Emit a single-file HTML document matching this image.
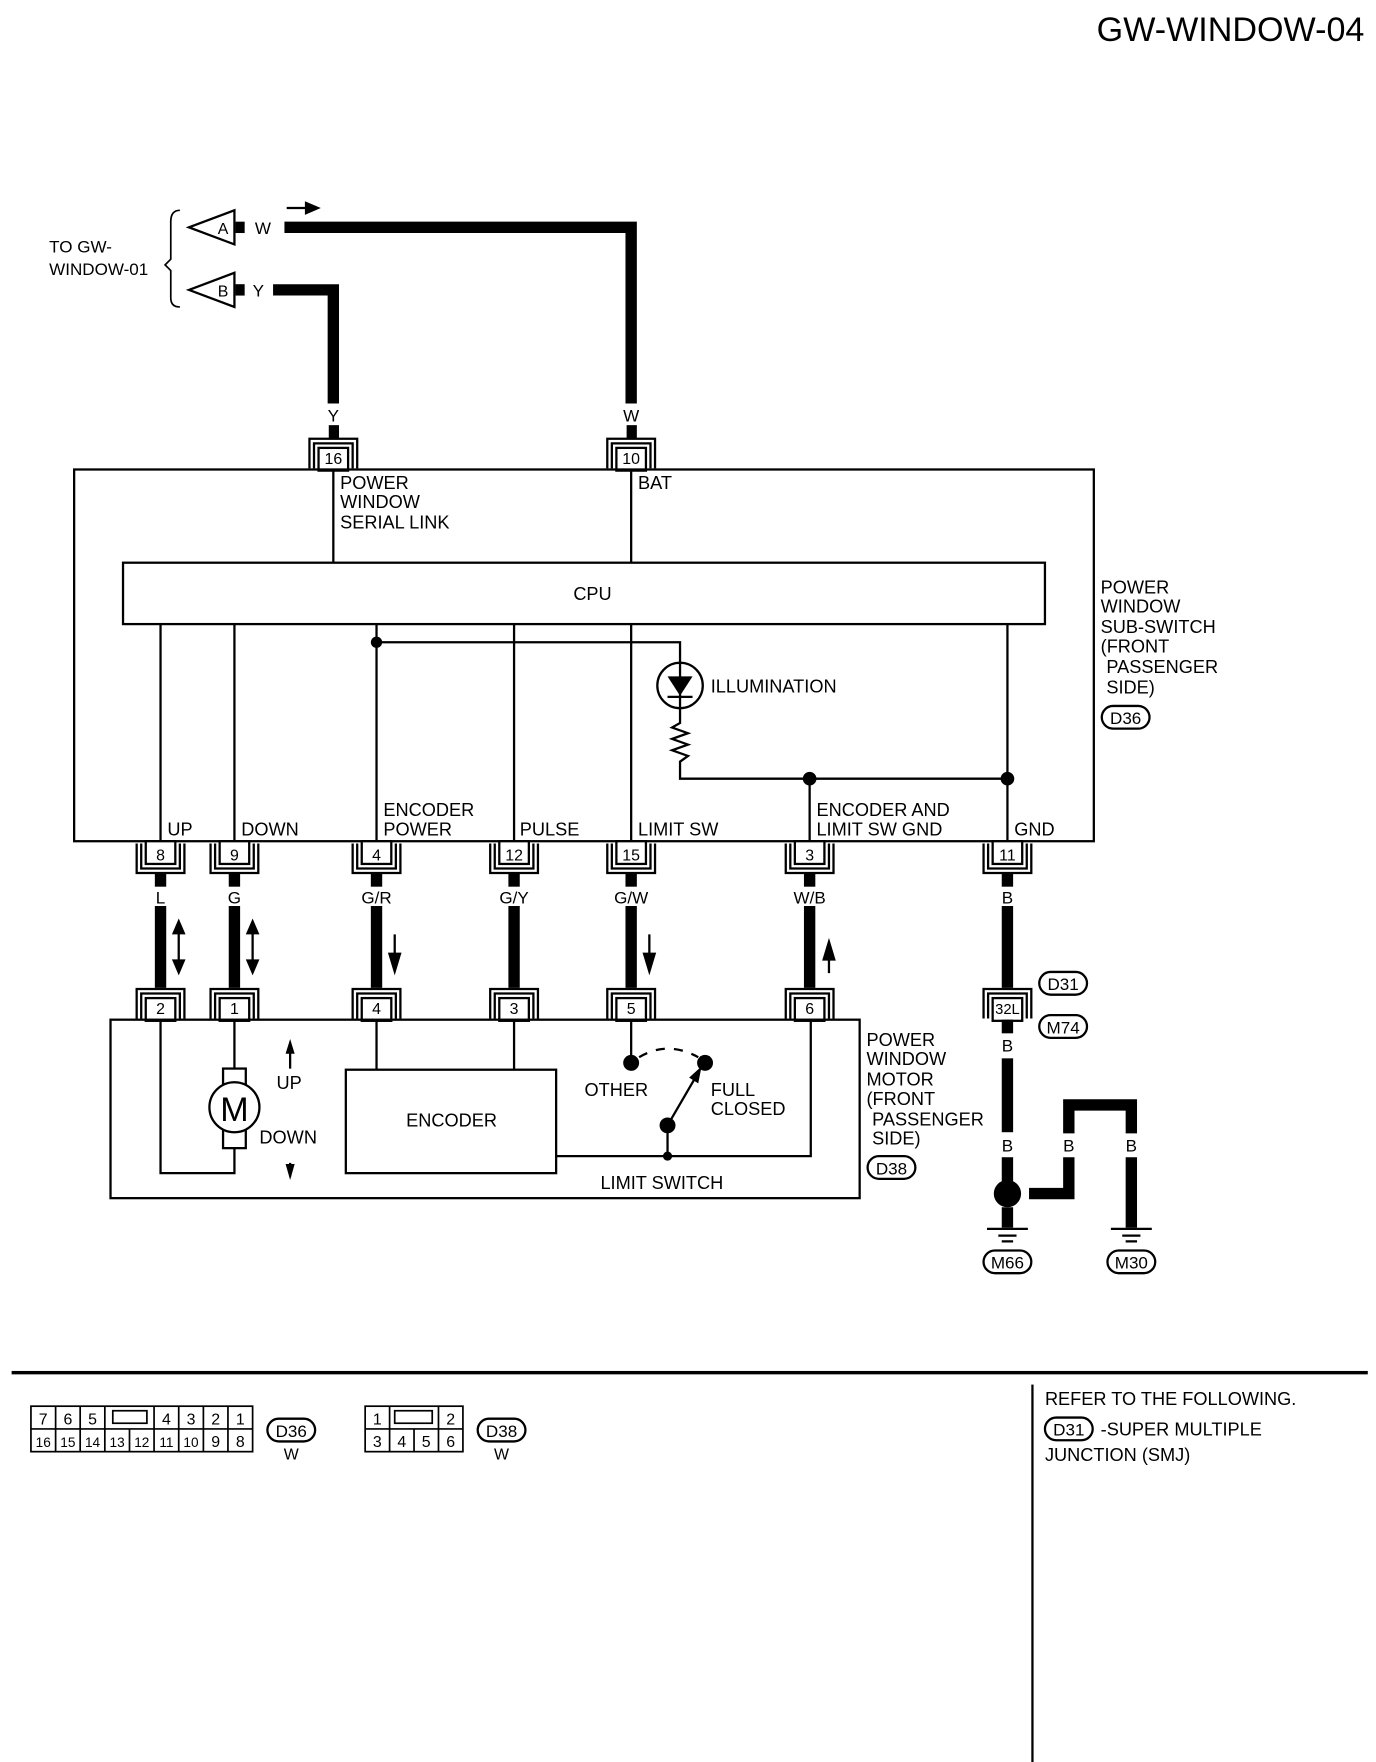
<!DOCTYPE html>
<html><head><meta charset="utf-8"><style>html,body{margin:0;padding:0;background:#fff}svg{display:block}text{font-family:"Liberation Sans",sans-serif;fill:#000}</style></head>
<body>
<svg width="1376" height="1762" viewBox="0 0 1210 1550" xmlns="http://www.w3.org/2000/svg">
<defs>
<g id="con"><path d="M-21,0 V-26 H21 V0 M-17,0 V-22 H17 V0" fill="none" stroke="#000" stroke-width="2"/><rect x="-13" y="-18" width="26" height="20" fill="#fff" stroke="#000" stroke-width="2"/></g>
<g id="conb"><path d="M-21,0 V26 H21 V0 M-17,0 V22 H17 V0" fill="none" stroke="#000" stroke-width="2"/><rect x="-13" y="-2" width="26" height="20" fill="#fff" stroke="#000" stroke-width="2"/></g>
</defs>
<text x="1200" y="36" font-size="30" text-anchor="end">GW-WINDOW-04</text>

<text x="43" y="222" font-size="15">TO GW-</text>
<text x="43" y="242" font-size="15">WINDOW-01</text>
<path d="M158,185 Q150,185 150,195 V228 L145,233 L150,238 V262 Q150,270 158,270" fill="none" stroke="#000" stroke-width="1.5"/>
<polygon points="166,200 206,185 206,215" fill="#fff" stroke="#000" stroke-width="2"/>
<text x="196" y="206" font-size="14" text-anchor="middle">A</text>
<rect x="207" y="195" width="8" height="10"/>
<text x="224" y="206" font-size="15">W</text>
<polygon points="166,255 206,240 206,270" fill="#fff" stroke="#000" stroke-width="2"/>
<text x="196" y="261" font-size="14" text-anchor="middle">B</text>
<rect x="207" y="250" width="8" height="10"/>
<text x="222" y="261" font-size="15">Y</text>
<path d="M252,183 H270" stroke="#000" stroke-width="2"/><polygon points="268,177 282,183 268,189"/>
<path d="M250,200 H555 V355" fill="none" stroke="#000" stroke-width="10"/>
<path d="M240,255 H293 V355" fill="none" stroke="#000" stroke-width="10"/>
<text x="293" y="371" font-size="15" text-anchor="middle">Y</text>
<text x="555" y="371" font-size="15" text-anchor="middle">W</text>
<rect x="289" y="374" width="9" height="12"/><rect x="551" y="374" width="9" height="12"/>
<use href="#con" x="293" y="412"/><text x="293" y="408" font-size="14" text-anchor="middle">16</text>
<use href="#con" x="555" y="412"/><text x="555" y="408" font-size="14" text-anchor="middle">10</text>

<rect x="65" y="413" width="897" height="327" fill="none" stroke="#000" stroke-width="2"/>
<rect x="108" y="495" width="811" height="54" fill="none" stroke="#000" stroke-width="2"/>
<text x="521" y="528" font-size="16" text-anchor="middle">CPU</text>
<path d="M293,413 V495 M555,413 V495 M141,549 V740 M206,549 V740 M331,549 V740 M452,549 V740 M555,549 V740 M886,549 V740 M331,565 H598 V583 M598,623 V636 L591,640 L605,645 L591,650 L605,655 L591,660 L605,665 L598,670 V685 H886 M712,685 V740" fill="none" stroke="#000" stroke-width="2"/>
<circle cx="331" cy="565" r="5"/><circle cx="712" cy="685" r="6"/><circle cx="886" cy="685" r="6"/>
<circle cx="598" cy="603" r="20" fill="#fff" stroke="#000" stroke-width="2"/>
<polygon points="587,595 609,595 598,612"/><path d="M587,613 H609 M598,583 V623" stroke="#000" stroke-width="2"/>
<text x="625" y="609" font-size="16">ILLUMINATION</text>
<g font-size="16">
<text x="299" y="430">POWER</text><text x="299" y="447">WINDOW</text><text x="299" y="465">SERIAL LINK</text>
<text x="561" y="430">BAT</text>
<text x="147" y="735">UP</text><text x="212" y="735">DOWN</text>
<text x="337" y="718">ENCODER</text><text x="337" y="735">POWER</text>
<text x="457" y="735">PULSE</text><text x="561" y="735">LIMIT SW</text>
<text x="718" y="718">ENCODER AND</text><text x="718" y="735">LIMIT SW GND</text>
<text x="892" y="735">GND</text>
<text x="968" y="522">POWER</text><text x="968" y="539">WINDOW</text><text x="968" y="557">SUB-SWITCH</text><text x="968" y="574">(FRONT</text><text x="973" y="592">PASSENGER</text><text x="973" y="610">SIDE)</text>
</g>
<rect x="969" y="621" width="42" height="20" rx="10" fill="#fff" stroke="#000" stroke-width="2"/><text x="990" y="637" font-size="15" text-anchor="middle">D36</text>

<g font-size="14" text-anchor="middle">
<use href="#conb" x="141" y="742"/><text x="141" y="757">8</text>
<use href="#conb" x="206" y="742"/><text x="206" y="757">9</text>
<use href="#conb" x="331" y="742"/><text x="331" y="757">4</text>
<use href="#conb" x="452" y="742"/><text x="452" y="757">12</text>
<use href="#conb" x="555" y="742"/><text x="555" y="757">15</text>
<use href="#conb" x="712" y="742"/><text x="712" y="757">3</text>
<use href="#conb" x="886" y="742"/><text x="886" y="757">11</text>
</g>
<g font-size="15" text-anchor="middle">
<text x="141" y="795">L</text><text x="206" y="795">G</text><text x="331" y="795">G/R</text><text x="452" y="795">G/Y</text><text x="555" y="795">G/W</text><text x="712" y="795">W/B</text><text x="886" y="795">B</text>
</g>
<g>
<rect x="136" y="768" width="10" height="12"/><rect x="201" y="768" width="10" height="12"/><rect x="326" y="768" width="10" height="12"/><rect x="447" y="768" width="10" height="12"/><rect x="550" y="768" width="10" height="12"/><rect x="707" y="768" width="10" height="12"/><rect x="881" y="768" width="10" height="12"/>
<rect x="136" y="797" width="10" height="72"/><rect x="201" y="797" width="10" height="72"/><rect x="326" y="797" width="10" height="72"/><rect x="447" y="797" width="10" height="72"/><rect x="550" y="797" width="10" height="72"/><rect x="707" y="797" width="10" height="72"/><rect x="881" y="797" width="10" height="72"/>
</g>
<path d="M157,818 V850 M222,818 V850 M347,822 V850 M571,822 V850 M729,835 V856" stroke="#000" stroke-width="2"/>
<polygon points="151,822 157,808 163,822"/><polygon points="151,844 157,858 163,844"/>
<polygon points="216,822 222,808 228,822"/><polygon points="216,844 222,858 228,844"/>
<polygon points="341,838 347,858 353,838"/><polygon points="565,838 571,858 577,838"/>
<polygon points="723,845 729,825 735,845"/>

<g font-size="14" text-anchor="middle">
<use href="#con" x="141" y="896"/><text x="141" y="892">2</text>
<use href="#con" x="206" y="896"/><text x="206" y="892">1</text>
<use href="#con" x="331" y="896"/><text x="331" y="892">4</text>
<use href="#con" x="452" y="896"/><text x="452" y="892">3</text>
<use href="#con" x="555" y="896"/><text x="555" y="892">5</text>
<use href="#con" x="712" y="896"/><text x="712" y="892">6</text>
<use href="#con" x="886" y="896"/><text x="886" y="892" font-size="13">32L</text>
</g>
<rect x="97" y="897" width="659" height="157" fill="none" stroke="#000" stroke-width="2"/>
<path d="M141,897 V1032 H206 V1010 M206,897 V940 M331,897 V941 M452,897 V941 M555,897 V935 M713,897 V1017 H489 M587,990 V1017" fill="none" stroke="#000" stroke-width="2"/>
<rect x="196" y="940" width="20" height="70" fill="#fff" stroke="#000" stroke-width="2"/>
<circle cx="206" cy="974" r="22" fill="#fff" stroke="#000" stroke-width="2"/>
<text x="206" y="986" font-size="30" text-anchor="middle">M</text>
<path d="M255,940 V925 M255,1023 V1035" stroke="#000" stroke-width="2"/>
<polygon points="251,927 255,914 259,927"/><polygon points="251,1024 255,1038 259,1024"/>
<text x="243" y="958" font-size="16">UP</text><text x="228" y="1006" font-size="16">DOWN</text>
<rect x="304" y="941" width="185" height="91" fill="none" stroke="#000" stroke-width="2"/>
<text x="397" y="991" font-size="16" text-anchor="middle">ENCODER</text>
<circle cx="555" cy="935" r="7"/><circle cx="620" cy="935" r="7"/><circle cx="587" cy="990" r="7"/><circle cx="587" cy="1017" r="4"/>
<path d="M562,930 Q587,915 614,930" fill="none" stroke="#000" stroke-width="2" stroke-dasharray="8,8"/>
<path d="M587,990 L612,947" stroke="#000" stroke-width="2"/><polygon points="606,948 617,938 614,953"/>
<text x="514" y="964" font-size="16">OTHER</text>
<text x="625" y="964" font-size="16">FULL</text><text x="625" y="981" font-size="16">CLOSED</text>
<text x="528" y="1046" font-size="16">LIMIT SWITCH</text>
<g font-size="16">
<text x="762" y="920">POWER</text><text x="762" y="937">WINDOW</text><text x="762" y="955">MOTOR</text><text x="762" y="972">(FRONT</text><text x="767" y="990">PASSENGER</text><text x="767" y="1007">SIDE)</text>
</g>
<rect x="763" y="1017" width="42" height="20" rx="10" fill="#fff" stroke="#000" stroke-width="2"/><text x="784" y="1033" font-size="15" text-anchor="middle">D38</text>

<rect x="914" y="855" width="42" height="20" rx="10" fill="#fff" stroke="#000" stroke-width="2"/><text x="935" y="871" font-size="15" text-anchor="middle">D31</text>
<rect x="914" y="893" width="42" height="20" rx="10" fill="#fff" stroke="#000" stroke-width="2"/><text x="935" y="909" font-size="15" text-anchor="middle">M74</text>
<rect x="881" y="897" width="10" height="12"/>
<text x="886" y="925" font-size="15" text-anchor="middle">B</text>
<rect x="881" y="931" width="10" height="65"/>
<text x="886" y="1013" font-size="15" text-anchor="middle">B</text>
<rect x="881" y="1018" width="10" height="22"/>
<circle cx="886" cy="1050" r="12"/>
<rect x="881" y="1062" width="10" height="18"/>
<path d="M905,1050 H940 V1018 M940,997 V972 H995 V997 M995,1018 V1080" fill="none" stroke="#000" stroke-width="10"/>
<text x="940" y="1013" font-size="15" text-anchor="middle">B</text><text x="995" y="1013" font-size="15" text-anchor="middle">B</text>
<path d="M868,1081 H904 M878,1087 H894 M881,1092 H891 M977,1081 H1013 M987,1087 H1003 M990,1092 H1000" stroke="#000" stroke-width="2"/>
<rect x="865" y="1100" width="42" height="20" rx="10" fill="#fff" stroke="#000" stroke-width="2"/><text x="886" y="1116" font-size="15" text-anchor="middle">M66</text>
<rect x="974" y="1100" width="42" height="20" rx="10" fill="#fff" stroke="#000" stroke-width="2"/><text x="995" y="1116" font-size="15" text-anchor="middle">M30</text>

<rect x="10" y="1206" width="1193" height="3"/>
<rect x="907" y="1218" width="2" height="338"/>

<!-- D36 face: 9 cells of 21.67 from x=27 -->
<g fill="none" stroke="#000" stroke-width="1.5">
<rect x="27" y="1237" width="195" height="40"/>
<path d="M27,1257 H222 M48.7,1237 V1277 M70.3,1237 V1277 M92,1237 V1277 M135.3,1237 V1277 M157,1237 V1277 M178.7,1237 V1277 M200.3,1237 V1277 M113.7,1257 V1277"/>
<rect x="99" y="1241" width="30" height="11"/>
<rect x="321" y="1237" width="86" height="40"/><path d="M321,1257 H407 M342.5,1237 V1277 M385.5,1237 V1277 M364,1257 V1277"/>
<rect x="347" y="1241" width="33" height="11"/>
</g>
<g font-size="14" text-anchor="middle">
<text x="37.8" y="1253">7</text><text x="59.5" y="1253">6</text><text x="81.2" y="1253">5</text><text x="146.2" y="1253">4</text><text x="167.8" y="1253">3</text><text x="189.5" y="1253">2</text><text x="211.2" y="1253">1</text>
<g font-size="12"><text x="37.8" y="1273">16</text><text x="59.5" y="1273">15</text><text x="81.2" y="1273">14</text><text x="102.8" y="1273">13</text><text x="124.5" y="1273">12</text><text x="146.2" y="1273">11</text><text x="167.8" y="1273">10</text></g>
<text x="189.5" y="1273">9</text><text x="211.2" y="1273">8</text>
<text x="331.7" y="1253">1</text><text x="396.2" y="1253">2</text>
<text x="331.7" y="1273">3</text><text x="353.2" y="1273">4</text><text x="374.7" y="1273">5</text><text x="396.2" y="1273">6</text>
</g>
<rect x="235" y="1248" width="42" height="20" rx="10" fill="#fff" stroke="#000" stroke-width="2"/><text x="256" y="1264" font-size="15" text-anchor="middle">D36</text>
<text x="256" y="1284" font-size="14" text-anchor="middle">W</text>
<rect x="420" y="1248" width="42" height="20" rx="10" fill="#fff" stroke="#000" stroke-width="2"/><text x="441" y="1264" font-size="15" text-anchor="middle">D38</text>
<text x="441" y="1284" font-size="14" text-anchor="middle">W</text>

<text x="919" y="1236" font-size="16">REFER TO THE FOLLOWING.</text>
<rect x="919" y="1247" width="42" height="20" rx="10" fill="#fff" stroke="#000" stroke-width="2"/><text x="940" y="1263" font-size="15" text-anchor="middle">D31</text>
<text x="968" y="1263" font-size="16">-SUPER MULTIPLE</text>
<text x="919" y="1285" font-size="16">JUNCTION (SMJ)</text>
</svg>
</body></html>
